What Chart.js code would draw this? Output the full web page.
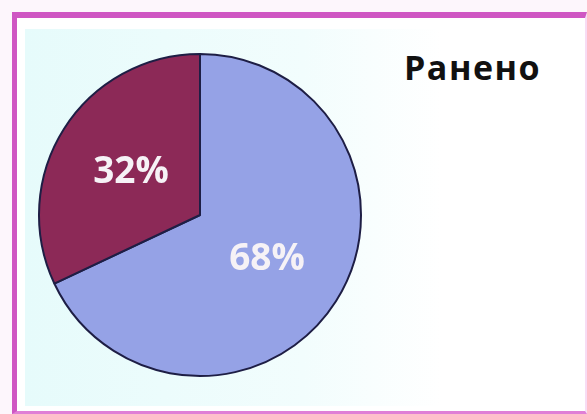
<!DOCTYPE html>
<html>
<head>
<meta charset="utf-8">
<script src="https://cdn.jsdelivr.net/npm/chart.js@4"></script>
<style>
  html, body { margin: 0; padding: 0; }
  body { width: 587px; height: 414px; background: #fdf6fc; position: relative; overflow: hidden; }
  #frame {
    position: absolute; left: 12px; top: 12px; width: 568px; height: 393px;
    border-top: 6px solid #cf56c3; border-left: 5px solid #cf56c3;
    border-bottom: 3px solid #e07fd6; border-right: 2px solid #f8dcf4;
    background: #fff;
  }
  #inner {
    position: absolute; left: 8px; top: 11px; right: 4px; bottom: 5px;
    background: linear-gradient(90deg, #e6fbfb 0%, #f2fdfd 50%, #ffffff 75%, #ffffff 100%);
  }
  #title {
    position: absolute; left: 404px; top: 44px; letter-spacing: 1.5px;
    font-family: "Open Sans", sans-serif; font-weight: bold; font-size: 34px; color: #111;
  }
  #wrap { position: absolute; left: 0; top: 0; width: 587px; height: 414px; }
</style>
</head>
<body>
<div id="frame"><div id="inner"></div></div>
<div id="title">Ранено</div>
<div id="wrap"><canvas id="pie"></canvas></div>
<script>
const categories = ["Тяжело", "Легко"];
const percentValues = [68, 32];
const sliceColors = ["#95a2e6", "#8c2957"];

// draws "NN%" in the middle of every slice
const sliceLabels = {
  id: "sliceLabels",
  afterDatasetsDraw(chart) {
    const ctx = chart.ctx;
    const meta = chart.getDatasetMeta(0);
    ctx.save();
    ctx.font = "bold 37px 'Open Sans', sans-serif";
    ctx.fillStyle = "#f6f2f6";
    ctx.textAlign = "center";
    ctx.textBaseline = "middle";
    meta.data.forEach((arc, i) => {
      const p = arc.tooltipPosition();
      ctx.fillText(percentValues[i] + "%", p.x - 1, p.y + 1);
    });
    ctx.restore();
  },
};

new Chart(document.getElementById("pie").getContext("2d"), {
  type: "pie",
  data: {
    labels: categories,
    datasets: [
      {
        data: percentValues,
        backgroundColor: sliceColors,
        borderColor: "#1e1e45",
        borderWidth: 2,
      },
    ],
  },
  options: {
    responsive: true,
    maintainAspectRatio: false,
    animation: false,
    layout: { padding: { left: 37, top: 53, right: 224, bottom: 37 } },
    plugins: { legend: { display: false }, tooltip: { enabled: false } },
  },
  plugins: [sliceLabels],
});
</script>
</body>
</html>
